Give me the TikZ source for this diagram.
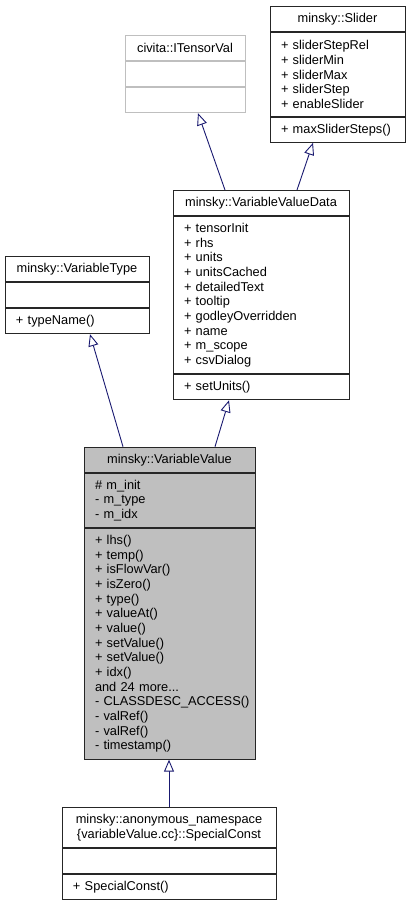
\documentclass[tikz,border=0pt]{standalone}
\usepackage{fontspec}
\setmainfont{Liberation Sans}
\usepackage{tikz}
\usetikzlibrary{arrows.meta, positioning}
\definecolor{edgeblue}{RGB}{25,25,112}
\definecolor{boxgray}{RGB}{191,191,191}

\begin{document}
\begin{tikzpicture}[
  x=1bp, y=-1bp,
  node distance=0pt,
  part/.style={rectangle, draw=black!85, line width=0.8bp, inner xsep=11bp,
    inner ysep=0pt, align=left, anchor=north,
    font=\fontsize{12.8bp}{14.67bp}\selectfont,
    minimum height={#1*14.67bp+10.6bp}},
  part/.default=1,
  title/.style={part=#1, align=center},
  title/.default=1,
  inherit/.style={draw=edgeblue, line width=0.9bp,
    -{Triangle[open, length=12bp, width=10bp, fill=white]}}
]
\useasboundingbox (0,0) rectangle (411,904);

% Base classes
\node[title, text width=113bp] (slider) at (337.5,6) {minsky::Slider};
\node[part=5, text width=113bp, below=of slider] (sliderattr)
  {+ sliderStepRel\\+ sliderMin\\+ sliderMax\\+ sliderStep\\+ enableSlider};
\node[part, text width=113bp, below=of sliderattr] (sliderops) {+ maxSliderSteps()};

\node[title, draw=boxgray, text width=98bp] (tensor) at (185,35) {civita::ITensorVal};
\node[part, draw=boxgray, text width=98bp, below=of tensor] (tensorattr) {};
\node[part, draw=boxgray, text width=98bp, below=of tensorattr] (tensorops) {};

% Value data
\node[title, text width=154bp] (data) at (261,190) {minsky::VariableValueData};
\node[part=10, text width=154bp, below=of data] (dataattr)
  {+ tensorInit\\+ rhs\\+ units\\+ unitsCached\\+ detailedText\\+ tooltip\\
   + godleyOverridden\\+ name\\+ m\_scope\\+ csvDialog};
\node[part, text width=154bp, below=of dataattr] (dataops) {+ setUnits()};

\node[title, text width=122bp] (vtype) at (77,256) {minsky::VariableType};
\node[part, text width=122bp, below=of vtype] (vtypeattr) {};
\node[part, text width=122bp, below=of vtypeattr] (vtypeops) {+ typeName()};

% Main class
\node[title, fill=boxgray, text width=149bp] (value) at (169.5,446.7) {minsky::VariableValue};
\node[part=3, fill=boxgray, text width=149bp, below=of value] (valueattr)
  {\# m\_init\\- m\_type\\- m\_idx};
\node[part=15, fill=boxgray, text width=149bp, below=of valueattr] (valueops)
  {+ lhs()\\+ temp()\\+ isFlowVar()\\+ isZero()\\+ type()\\+ valueAt()\\+ value()\\
   + setValue()\\+ setValue()\\+ idx()\\and 24 more...\\\mbox{- CLASSDESC\_ACCESS()}\\
   - valRef()\\- valRef()\\- timestamp()};

% Derived class
\node[title=2, text width=192bp] (special) at (169,807)
  {minsky::anonymous\_namespace\\\{variableValue.cc\}::SpecialConst};
\node[part, text width=192bp, below=of special] (specialattr) {};
\node[part, text width=192bp, below=of specialattr] (specialops) {+ SpecialConst()};

% Inheritance
\draw[inherit] ([xshift=-36bp]data.north) -- ([xshift=13bp]tensorops.south);
\draw[inherit] ([xshift=36bp]data.north) -- ([xshift=-24.5bp]sliderops.south);
\draw[inherit] ([xshift=-46.5bp]value.north) -- ([xshift=13bp]vtypeops.south);
\draw[inherit] ([xshift=45.5bp]value.north) -- ([xshift=-32bp]dataops.south);
\draw[inherit] (special.north) -- (special.north |- valueops.south);
\end{tikzpicture}
\end{document}
